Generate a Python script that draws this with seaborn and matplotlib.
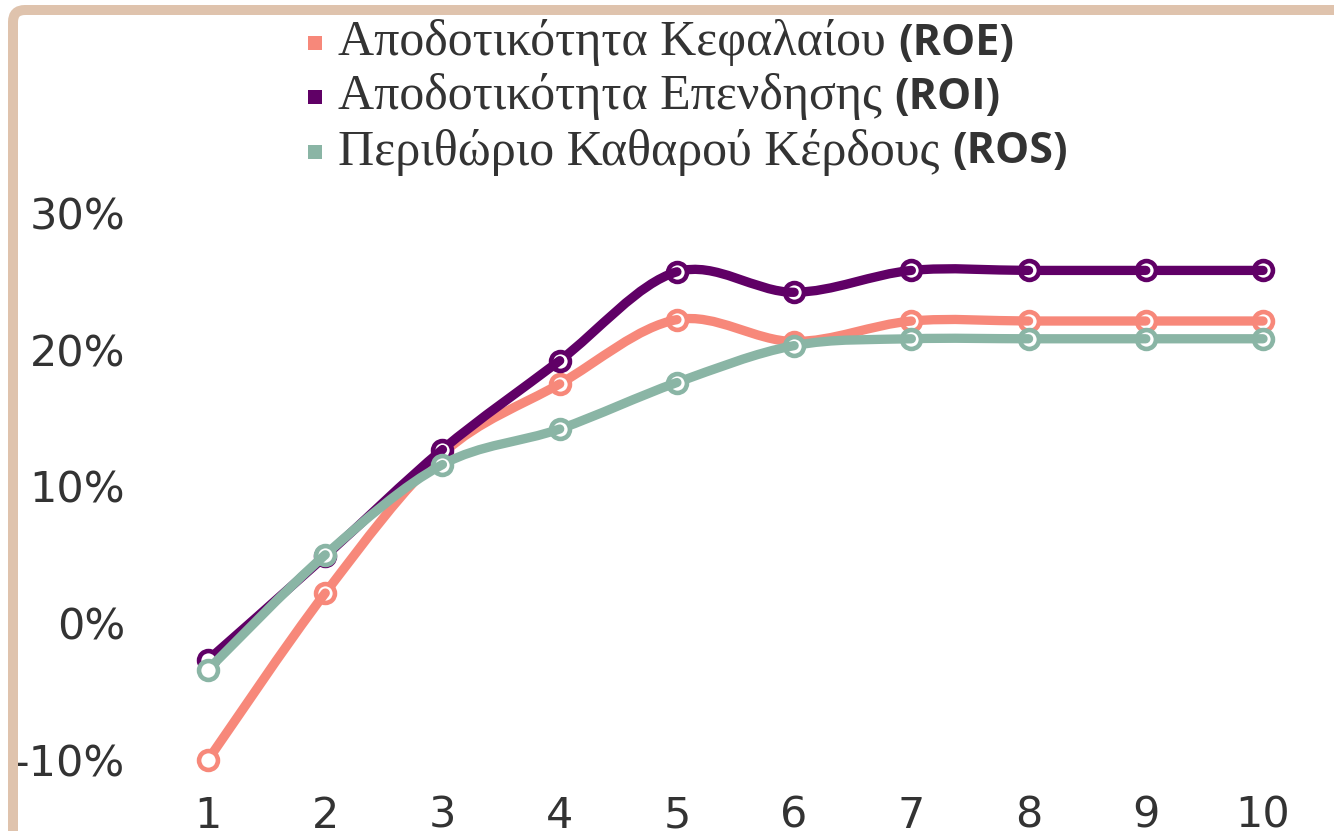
import numpy as np
import pandas as pd
import matplotlib
matplotlib.use("Agg")
import matplotlib.pyplot as plt
import seaborn as sns
from matplotlib.path import Path
from matplotlib.patches import PathPatch, FancyBboxPatch, Rectangle
from matplotlib.transforms import IdentityTransform

sns.set_theme(style="white")
plt.rcParams['font.family'] = ['DejaVu Sans']

# data (percent)
years = [1, 2, 3, 4, 5, 6, 7, 8, 9, 10]
roe = [-10.0, 2.2, 12.4, 17.5, 22.2, 20.6, 22.1, 22.1, 22.1, 22.1]
roi = [-2.7, 4.9, 12.7, 19.2, 25.7, 24.2, 25.8, 25.8, 25.8, 25.8]
ros = [-3.4, 5.0, 11.6, 14.2, 17.6, 20.3, 20.8, 20.8, 20.8, 20.8]

names_gr = ['Αποδοτικότητα Κεφαλαίου ', 'Αποδοτικότητα Επενδησης ', 'Περιθώριο Καθαρού Κέρδους ']
names_en = ['(ROE)', '(ROI)', '(ROS)']
colors = ['#F7887A', '#600066', '#8AB5A5']
y_ticks = [-10, 0, 10, 20, 30]

df = pd.DataFrame({
    'year': years * 3,
    'value': roe + roi + ros,
    'metric': [n for n in names_en for _ in years],
})

W, H = 1334, 831
fig = plt.figure(figsize=(W / 100, H / 100), dpi=100)
ax = fig.add_axes([150 / W, 1 - 785 / H, 1170 / W, 572 / H])


def smooth_segments(xs, ys):
    # catmull-rom through the points, one bezier per segment
    p = np.column_stack([xs, ys]).astype(float)
    pts = np.vstack([p[0], p, p[-1]])
    segs = []
    for i in range(1, len(pts) - 2):
        c1 = pts[i] + (pts[i + 1] - pts[i - 1]) / 6
        c2 = pts[i + 1] - (pts[i + 2] - pts[i]) / 6
        segs.append(Path([pts[i], c1, c2, pts[i + 1]],
                         [Path.MOVETO, Path.CURVE4, Path.CURVE4, Path.CURVE4]))
    return segs


for k, (name, c) in enumerate(zip(names_en, colors)):
    sub = df[df.metric == name].reset_index(drop=True)
    base = 100 * (k + 1)
    # segment i-1->i sits over marker i, which sits over segment i->i+1
    for i, seg in enumerate(smooth_segments(sub.year, sub.value)):
        ax.add_patch(PathPatch(seg, facecolor='none', edgecolor=c, lw=6.7,
                               capstyle='round', joinstyle='round', zorder=base - 2 * i))
    for i in range(len(sub)):
        sns.scatterplot(x=[sub.year[i]], y=[sub.value[i]], color='white', edgecolor=c,
                        s=185, linewidth=3.3, ax=ax, zorder=base - 2 * i + 1, legend=False)

ax.set_xlim(0.505, 10.486)
ax.set_ylim(-11.84, 30)
ax.set_xticks(years)
ax.set_yticks(y_ticks)
ax.set_yticklabels([f'{t}%' for t in y_ticks])
ax.set_xlabel('')
ax.set_ylabel('')
ax.tick_params(axis='both', length=0, labelsize=31, labelcolor='#333333')
ax.tick_params(axis='y', pad=18)
ax.tick_params(axis='x', pad=7)
for s in ax.spines.values():
    s.set_visible(False)

# legend, drawn by hand to mix a serif greek part with a bold sans code
rows_y = [43, 97, 152]
fig.canvas.draw()
r = fig.canvas.get_renderer()
for gr, en, c, yy in zip(names_gr, names_en, colors, rows_y):
    fig.patches.append(Rectangle((308 / W, 1 - (yy + 7) / H), 14 / W, 14 / H,
                                 transform=fig.transFigure, facecolor=c, edgecolor='none'))
    t = fig.text(338 / W, 1 - yy / H, gr, family='Liberation Serif', fontsize=36,
                 color='#333333', va='center', ha='left')
    bb = t.get_window_extent(r)
    fig.text(bb.x1 / W, 1 - yy / H, en, family='Open Sans', fontweight='bold', fontsize=31,
             color='#333333', va='center', ha='left')

# tan frame, only the top-left corner is inside the picture
frame = FancyBboxPatch((13, -100), 1500, H - 10 + 100,
                       boxstyle='round,pad=0,rounding_size=12',
                       transform=IdentityTransform(), facecolor='none',
                       edgecolor='#DFC3AD', lw=7.2)
fig.patches.append(frame)

fig.savefig('out.png', dpi=100)
